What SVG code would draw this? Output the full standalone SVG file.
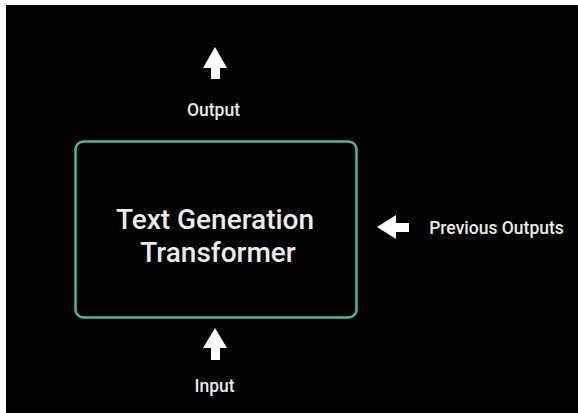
<svg xmlns="http://www.w3.org/2000/svg" width="578" height="413" viewBox="0 0 578 413">
<style>
.lbl{font-family:Roboto,"Liberation Sans",sans-serif;font-weight:500;fill:#ebebeb;text-anchor:middle}
.arr{fill:#ffffff}
</style>
<rect x="0" y="0" width="578" height="413" fill="#ffffff"/>
<rect x="6" y="5" width="572" height="408" fill="#000000"/>
<g id="connectors">
<polygon class="arr" points="215,47 227,68 220,68 220,79 211,79 211,68 203,68"/>
<polygon class="arr" points="215,328 227,348 220,348 220,360 211,360 211,348 203,348"/>
<polygon class="arr" points="377,227 396,215 396,223 409,223 409,232 396,232 396,239"/>
</g>
<g id="transformer">
<rect x="75.5" y="141.5" width="281" height="176" rx="8" ry="8" fill="none" stroke="#4fb79f" stroke-width="2.5"/>
<text class="lbl" x="215" y="229" font-size="28">Text Generation</text>
<text class="lbl" x="218" y="262" font-size="28">Transformer</text>
</g>
<g id="output"><text class="lbl" x="213.5" y="116" font-size="17.5">Output</text></g>
<g id="input"><text class="lbl" x="214.5" y="392" font-size="17.5">Input</text></g>
<g id="previous"><text class="lbl" x="496.5" y="234" font-size="17.5">Previous Outputs</text></g>
</svg>
